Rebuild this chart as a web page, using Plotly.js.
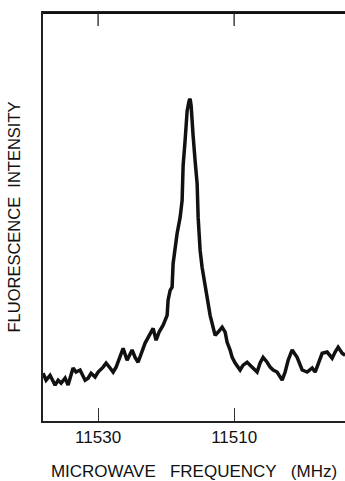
<!DOCTYPE html>
<html>
<head>
<meta charset="utf-8">
<script src="https://cdn.plot.ly/plotly-3.0.1.min.js"></script>
<style>
html,body{margin:0;padding:0;background:#fff;}
#chart{width:345px;height:481px;}
</style>
</head>
<body>
<div id="chart"></div>
<script>
// Microwave frequency (MHz)
const frequency = [
  11538.09, 11537.65, 11537.06, 11536.32, 11535.88, 11535.44, 11534.85, 11534.41,
  11533.68, 11533.24, 11532.65, 11531.91, 11531.47, 11531.03, 11530.44, 11530.00,
  11529.26, 11528.82, 11528.24, 11527.79, 11527.35, 11526.76, 11526.32, 11525.74,
  11525.00, 11524.56, 11524.12, 11523.09, 11522.35, 11521.91, 11521.47, 11521.03,
  11520.44, 11519.85, 11519.71, 11519.41, 11519.12, 11518.97, 11518.38, 11517.94,
  11517.65, 11517.50, 11517.21, 11516.91, 11516.62, 11516.47, 11516.32, 11516.18,
  11516.03, 11515.74, 11515.44, 11515.29, 11515.00, 11514.71, 11514.26, 11513.97,
  11513.53, 11513.09, 11512.79, 11512.35, 11511.76, 11511.32, 11511.03, 11510.59,
  11510.29, 11509.85, 11509.12, 11508.68, 11508.09, 11507.35, 11506.62, 11506.18,
  11505.74, 11505.15, 11504.71, 11504.26, 11503.68, 11502.94, 11502.50, 11502.06,
  11501.47, 11500.74, 11500.00, 11499.26, 11498.53, 11498.09, 11497.65, 11497.06,
  11496.32, 11495.59, 11495.15, 11494.71, 11494.12, 11493.68
];
// Fluorescence intensity (arbitrary units, 0-100)
const intensity = [
  11.7, 10.0, 11.2, 8.8, 10.0, 9.3, 10.5, 8.8,
  13.0, 12.0, 12.5, 10.0, 10.5, 11.7, 10.8, 12.0,
  13.2, 14.2, 13.0, 12.0, 13.2, 15.6, 17.8, 14.9,
  17.4, 15.6, 14.4, 19.1, 21.5, 22.7, 19.8, 21.8,
  23.5, 25.9, 29.6, 32.0, 32.8, 38.6, 46.0, 49.9,
  54.0, 62.6, 68.7, 76.0, 78.5, 79.0, 77.3, 74.8,
  69.9, 63.8, 58.2, 49.9, 41.8, 37.7, 33.7, 30.3,
  25.9, 23.0, 21.0, 21.8, 23.0, 21.8, 19.3, 17.4,
  15.6, 14.2, 12.5, 13.7, 14.4, 13.2, 12.0, 14.2,
  15.6, 14.4, 13.2, 12.5, 12.0, 10.0, 12.0, 14.9,
  17.4, 15.6, 12.5, 12.0, 13.0, 12.0, 14.2, 16.6,
  16.9, 15.4, 16.9, 18.1, 16.6, 16.1
];
const tickValues = [11530, 11510];
const tickLabels = ['11530', '11510'];
const xTitle = 'MICROWAVE\u00a0\u00a0\u00a0FREQUENCY\u00a0\u00a0\u00a0(MHz)';
const yTitle = 'FLUORESCENCE\u00a0\u00a0INTENSITY';

const font = 'Liberation Sans, Arial, sans-serif';
const xRange = [11538.1, 11493.7];

// top frame line and top tick marks, placed through the axes' own scales
const frameShapes = [{
  type: 'line', layer: 'above', xref: 'paper', yref: 'paper', x0: 0, x1: 1, y0: 1, y1: 1,
  line: {color: '#111', width: 2}
}].concat(tickValues.map(v => ({
  type: 'line', layer: 'above', xref: 'x', yref: 'paper', x0: v, x1: v, y0: 1, y1: 0.968,
  line: {color: '#222', width: 1.3}
})));

Plotly.newPlot('chart', [{
  x: frequency,
  y: intensity,
  type: 'scatter',
  mode: 'lines',
  line: {color: '#111', width: 3.5},
  hoverinfo: 'skip'
}], {
  width: 345,
  height: 481,
  margin: {l: 43, r: 0, t: 13, b: 60},
  paper_bgcolor: '#fff',
  plot_bgcolor: '#fff',
  showlegend: false,
  font: {family: font, color: '#111'},
  shapes: frameShapes,
  xaxis: {
    range: xRange,
    tickmode: 'array',
    tickvals: tickValues,
    ticktext: tickLabels,
    ticks: 'inside',
    ticklen: 13,
    tickwidth: 1.2,
    tickcolor: '#333',
    showline: true,
    linecolor: '#222',
    linewidth: 1.5,
    mirror: true,
    showgrid: false,
    zeroline: false,
    tickfont: {family: font, size: 17, color: '#111'},
    title: {text: xTitle, font: {family: font, size: 17, color: '#111'}, standoff: 22},
    automargin: false
  },
  yaxis: {
    range: [0, 100],
    showticklabels: false,
    ticks: '',
    showline: true,
    linecolor: '#222',
    linewidth: 1.5,
    showgrid: false,
    zeroline: false,
    title: {text: yTitle, font: {family: font, size: 16.5, color: '#111'}, standoff: 16},
    automargin: false
  }
}, {displayModeBar: false});
</script>
</body>
</html>
